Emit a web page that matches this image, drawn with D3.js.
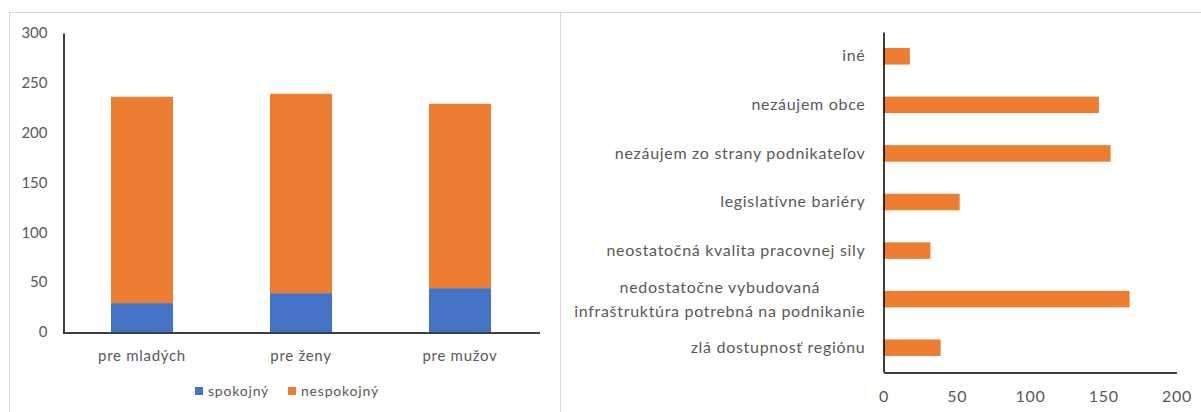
<!DOCTYPE html>
<html><head><meta charset="utf-8">
<script src="https://cdn.jsdelivr.net/npm/d3@7"></script>
<style>
html,body{margin:0;padding:0;background:#fff;}
svg{display:block;}
text{font-family:Lato,"Open Sans",sans-serif;fill:#595959;}
</style></head>
<body>
<svg id="c" width="1201" height="412"></svg>
<script>
// ---- data ----
const groups = ["pre mladých", "pre ženy", "pre mužov"];
const seriesNames = ["spokojný", "nespokojný"];
const spokojny = [29, 39, 44];
const nespokojny = [207, 200, 185];
const leftTicks = [0, 50, 100, 150, 200, 250, 300];

const reasons = [
  "iné",
  "nezáujem obce",
  "nezáujem zo strany podnikateľov",
  "legislatívne bariéry",
  "neostatočná kvalita pracovnej sily",
  "nedostatočne vybudovaná\ninfraštruktúra potrebná na podnikanie",
  "zlá dostupnosť regiónu"
];
const reasonValues = [18, 147, 155, 52, 32, 168, 39];
const rightTicks = [0, 50, 100, 150, 200];

const colors = ["#4472C4", "#ED7D31"];

const svg = d3.select("#c");

// panel borders
const border = svg.append("g").attr("stroke", "#d9d9d9").attr("stroke-width", 1);
border.append("line").attr("x1", 9).attr("x2", 1201).attr("y1", 12.5).attr("y2", 12.5);
border.append("line").attr("x1", 9.5).attr("x2", 9.5).attr("y1", 12).attr("y2", 412);
border.append("line").attr("x1", 560.5).attr("x2", 560.5).attr("y1", 12).attr("y2", 412);

// ---- left chart ----
const L = svg.append("g");
const x = d3.scaleBand().domain(groups).range([62.5, 539.5]).paddingInner(0.61).paddingOuter(0.305);
const y = d3.scaleLinear().domain([0, 300]).range([332, 33]);

const table = groups.map((g, i) => ({group: g, "spokojný": spokojny[i], "nespokojný": nespokojny[i]}));
const stack = d3.stack().keys(seriesNames)(table);

L.selectAll("g.series").data(stack).join("g")
  .attr("fill", (d, i) => colors[i])
  .selectAll("rect").data(d => d).join("rect")
  .attr("x", d => x(d.data.group))
  .attr("width", x.bandwidth())
  .attr("y", d => y(d[1]))
  .attr("height", d => y(d[0]) - y(d[1]));

const yAxisL = L.append("g").attr("transform", "translate(63.5,0)")
  .call(d3.axisLeft(y).tickValues(leftTicks).tickSize(0).tickSizeOuter(0).tickPadding(16));
yAxisL.selectAll("text").attr("font-size", 15);
const xAxisL = L.append("g").attr("transform", "translate(0,332.5)")
  .call(d3.axisBottom(x).tickSize(0).tickSizeOuter(0));
xAxisL.selectAll("text").attr("y", 23).attr("dy", "0.35em").attr("font-size", 15).attr("letter-spacing", 0.7);

[yAxisL, xAxisL].forEach(a => {
  a.select(".domain").attr("stroke", "#000").attr("stroke-width", 1.5);
  a.selectAll("text").attr("font-family", "Lato").attr("fill", "#595959");
});

// legend
const leg = L.append("g").attr("transform", "translate(195,391)");
const legX = [0, 93];
seriesNames.forEach((s, i) => {
  const gI = leg.append("g").attr("transform", `translate(${legX[i]},0)`);
  gI.append("rect").attr("x", 0).attr("y", -4).attr("width", 8).attr("height", 8).attr("fill", colors[i]);
  gI.append("text").attr("x", 13).attr("dy", "0.35em").attr("font-size", 14).attr("letter-spacing", 0.8).text(s);
});

// ---- right chart ----
const R = svg.append("g");
const xr = d3.scaleLinear().domain([0, 200]).range([883.5, 1176.5]);
const yr = d3.scaleBand().domain(reasons).range([32, 372]).paddingInner(0.66).paddingOuter(0.33);

R.selectAll("rect.bar").data(reasons).join("rect")
  .attr("fill", colors[1])
  .attr("x", xr(0))
  .attr("y", d => yr(d))
  .attr("height", yr.bandwidth())
  .attr("width", (d, i) => xr(reasonValues[i]) - xr(0));

const yAxisR = R.append("g").attr("transform", "translate(883.5,0)")
  .call(d3.axisLeft(yr).tickSize(0).tickSizeOuter(0).tickPadding(18));
yAxisR.selectAll("text").attr("font-size", 16).attr("letter-spacing", 0.7).attr("font-family", "Lato").attr("fill", "#595959");
yAxisR.selectAll(".tick text").each(function(d) {
  const lines = d.split("\n");
  if (lines.length < 2) return;
  const t = d3.select(this).text(null).attr("dy", null);
  const spans = lines.map((ln, k) => t.append("tspan").text(ln));
  const widths = spans.map(s => s.node().getComputedTextLength());
  const maxW = d3.max(widths);
  const cx = -18 - maxW / 2;
  t.attr("text-anchor", "middle");
  const lh = 24;
  spans.forEach((s, k) => s.attr("x", cx).attr("y", (k - (lines.length - 1) / 2) * lh).attr("dy", "0.35em"));
});

const xAxisR = R.append("g").attr("transform", "translate(0,372.5)")
  .call(d3.axisBottom(xr).tickValues(rightTicks).tickSize(0).tickSizeOuter(0));
xAxisR.selectAll("text").attr("y", 24).attr("dy", "0.35em").attr("font-size", 16).attr("letter-spacing", 0.7).attr("font-family", "Lato").attr("fill", "#595959");

[yAxisR, xAxisR].forEach(a => a.select(".domain").attr("stroke", "#000").attr("stroke-width", 1.5));
</script>
</body></html>
